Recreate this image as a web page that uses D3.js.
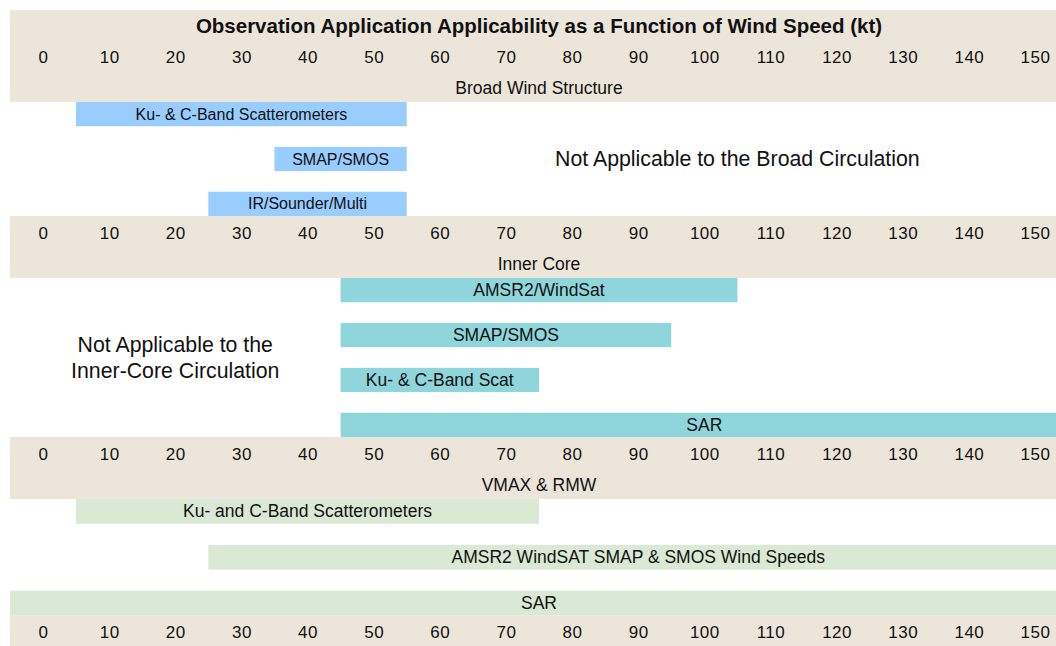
<!DOCTYPE html>
<html><head><meta charset="utf-8">
<script src="https://cdn.jsdelivr.net/npm/d3@7"></script>
<style>
body{margin:0;background:#fff}
svg{display:block}
text{font-family:"Liberation Sans",Arial,Helvetica,sans-serif;fill:#111}
</style>
</head><body>
<svg id="chart" width="1056" height="646"></svg>
<script>
// ---------- data ----------
const chartTitle = "Observation Application Applicability as a Function of Wind Speed (kt)";
const tickValues = [0, 10, 20, 30, 40, 50, 60, 70, 80, 90, 100, 110, 120, 130, 140, 150];
const sectionNames = ["Broad Wind Structure", "Inner Core", "VMAX & RMW"];

const broadLabels = ["Ku- & C-Band Scatterometers", "SMAP/SMOS", "IR/Sounder/Multi"];
const broadStart  = [5, 35, 25];
const broadEnd    = [55, 55, 55];

const innerLabels = ["AMSR2/WindSat", "SMAP/SMOS", "Ku- & C-Band Scat", "SAR"];
const innerStart  = [45, 45, 45, 45];
const innerEnd    = [105, 95, 75, 155];

const vmaxLabels = ["Ku- and C-Band Scatterometers", "AMSR2 WindSAT SMAP & SMOS Wind Speeds", "SAR"];
const vmaxStart  = [5, 25, -5];
const vmaxEnd    = [75, 155, 155];

const noteTexts  = [["Not Applicable to the Broad Circulation"], ["Not Applicable to the", "Inner-Core Circulation"]];
const noteSection = [0, 1];
const noteStart  = [55, -5];
const noteEnd    = [155, 45];

// ---------- layout ----------
const W = 1056, H = 646;
const plotLeft = 10, plotRight = 1056;
const headerTops = [40, 216, 437, 615.5];
const headerH = 62;
const bandColor = "#ECE6DA";
const barColors = ["#99CCFF", "#8ED5DC", "#D9E9D3"];
const barFont = [16, 17.5, 17.5];

const sections = [
  {labels: broadLabels, start: broadStart, end: broadEnd},
  {labels: innerLabels, start: innerStart, end: innerEnd},
  {labels: vmaxLabels,  start: vmaxStart,  end: vmaxEnd}
];

const svg = d3.select("#chart");
const x = d3.scaleLinear().domain([0, 150]).range([43, 1035]);

svg.append("defs").append("clipPath").attr("id", "plotclip")
  .append("rect").attr("x", plotLeft).attr("y", 0).attr("width", plotRight - plotLeft).attr("height", H);

const root = svg.append("g").attr("clip-path", "url(#plotclip)");

// header bands
headerTops.forEach((t, i) => {
  const top = i === 0 ? 10 : t;
  const bottom = i === headerTops.length - 1 ? H : t + headerH;
  root.append("rect").attr("x", plotLeft).attr("y", top)
    .attr("width", plotRight - plotLeft).attr("height", bottom - top)
    .attr("fill", bandColor);
});

// title
svg.append("text").attr("x", x(75)).attr("y", 25)
  .attr("text-anchor", "middle").attr("dominant-baseline", "central")
  .style("font-size", "20.5px").style("font-weight", "bold").text(chartTitle);

// axes (tick labels)
headerTops.forEach(t => {
  const g = svg.append("g").attr("transform", `translate(0,${t + 17})`)
    .call(d3.axisBottom(x).tickValues(tickValues).tickSize(0).tickPadding(0).tickFormat(d3.format("d")));
  g.select(".domain").remove();
  g.selectAll("text").attr("y", 0).attr("dy", null)
    .attr("dominant-baseline", "central")
    .style("font-size", "17px").style("font-family", '"Liberation Sans",Arial,sans-serif')
    .attr("fill", "#111").style("letter-spacing", "0.5px");
});

// section names
sectionNames.forEach((name, i) => {
  svg.append("text").attr("x", x(75)).attr("y", headerTops[i] + 47.5)
    .attr("text-anchor", "middle").attr("dominant-baseline", "central")
    .style("font-size", "17.5px").text(name);
});

// bars
sections.forEach((sec, si) => {
  const y = d3.scaleBand().domain(d3.range(sec.labels.length))
    .range([headerTops[si] + headerH, headerTops[si + 1]])
    .paddingInner(0.46).paddingOuter(0);
  const rows = sec.labels.map((l, i) => ({label: l, s: sec.start[i], e: sec.end[i], i}));
  const g = root.append("g");
  g.selectAll("rect").data(rows).join("rect")
    .attr("x", d => x(d.s)).attr("width", d => x(d.e) - x(d.s))
    .attr("y", d => y(d.i)).attr("height", y.bandwidth())
    .attr("fill", barColors[si]);
  g.selectAll("text").data(rows).join("text")
    .attr("x", d => x((d.s + d.e) / 2)).attr("y", d => y(d.i) + y.bandwidth() / 2)
    .attr("text-anchor", "middle").attr("dominant-baseline", "central")
    .style("font-size", barFont[si] + "px").text(d => d.label);
});

// not-applicable notes
noteTexts.forEach((lines, ni) => {
  const si = noteSection[ni];
  const cy = (headerTops[si] + headerH + headerTops[si + 1]) / 2;
  const lh = 26;
  const t = svg.append("text").attr("text-anchor", "middle").style("font-size", "21.3px");
  lines.forEach((ln, li) => {
    t.append("tspan").attr("x", x((noteStart[ni] + noteEnd[ni]) / 2))
      .attr("y", cy + (li - (lines.length - 1) / 2) * lh)
      .attr("dominant-baseline", "central").text(ln);
  });
});
</script>
</body></html>
